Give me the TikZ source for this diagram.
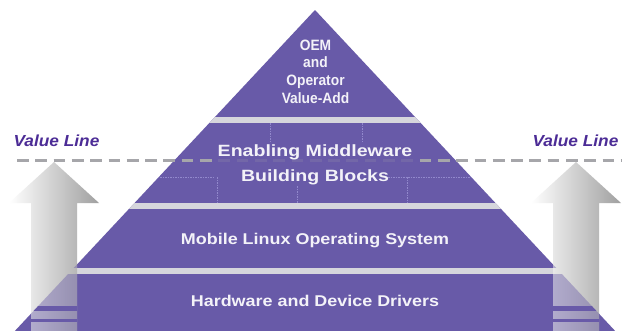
\documentclass[tikz,border=0pt]{standalone}
\usepackage{fontspec}
\setmainfont{Liberation Sans}
\newfontfamily\topfnt[FakeStretch=0.92]{Liberation Sans}
\newfontfamily\widefnt[FakeStretch=1.15]{Liberation Sans}
\newfontfamily\midfnt[FakeStretch=1.2]{Liberation Sans}
\newfontfamily\vlfnt[FakeStretch=1.08]{Liberation Sans}
\definecolor{pyr}{RGB}{104,90,168}
\definecolor{gapc}{RGB}{214,214,220}
\definecolor{vlc}{RGB}{76,44,150}
\definecolor{gridc}{RGB}{146,136,204}
\definecolor{txt}{RGB}{243,242,248}
\definecolor{dashc}{RGB}{166,166,170}
\begin{document}
\begin{tikzpicture}[x=1pt,y=-1pt,
  lbl/.style={text=txt,inner sep=0pt,anchor=base},
  toptext/.style={lbl,font=\topfnt\bfseries\fontsize{15}{17.7}\selectfont},
  midtext/.style={lbl,font=\midfnt\bfseries\fontsize{16.3}{24}\selectfont},
  bandtext/.style={lbl,font=\widefnt\bfseries\fontsize{15.6}{18}\selectfont},
  vltext/.style={inner sep=0pt,anchor=base,text=vlc,font=\vlfnt\bfseries\itshape\fontsize{16}{18}\selectfont},
  gridline/.style={gridc,line width=0.6pt,dash pattern=on 1.5pt off 1pt},
  valueline/.style={dashc,line width=2.8pt,dash pattern=on 11.7pt off 6.6pt},
  arrowshade/.style={left color=white,middle color=gray!12,right color=gray!75}
]
\useasboundingbox (0,0) rectangle (625,330);
\fill[white] (0,0) rectangle (625,330);

% pyramid body
\fill[pyr] (315,10) -- (6.4,340) -- (623.6,340) -- cycle;
\begin{scope}
  \clip (315,10) -- (6.4,340) -- (623.6,340) -- cycle;
  \fill[gapc] (0,117) rectangle (625,123);
  \fill[gapc] (0,203) rectangle (625,209);
  \fill[gapc] (0,268) rectangle (625,274);
  % building-block grid in the middleware band
  \draw[gridline] (270,123) -- (270,143);
  \draw[gridline] (362,123) -- (362,143);
  \draw[gridline] (150,177) -- (214,177);
  \draw[gridline] (388,177) -- (480,177);
  \draw[gridline] (217,177) -- (217,203);
  \draw[gridline] (297,186) -- (297,203);
  \draw[gridline] (407,177) -- (407,203);
\end{scope}

% rising arrows
\shade[arrowshade] (31,340) -- (31,203) -- (9,203) -- (54,162) -- (99,203) -- (77,203) -- (77,340) -- cycle;
\shade[arrowshade] (553,340) -- (553,203) -- (531,203) -- (576,162) -- (621,203) -- (599,203) -- (599,340) -- cycle;

% pyramid seen through the arrow shafts
\begin{scope}
  \clip (31,203) rectangle (77,340);
  \clip (315,10) -- (6.4,340) -- (623.6,340) -- cycle;
  \fill[pyr,opacity=0.42] (0,209) rectangle (625,268);
  \fill[pyr,opacity=0.42] (0,274) rectangle (625,340);
  \fill[pyr] (0,306) rectangle (625,311);
  \fill[pyr] (0,319) rectangle (625,322);
\end{scope}
\begin{scope}
  \clip (553,203) rectangle (599,340);
  \clip (315,10) -- (6.4,340) -- (623.6,340) -- cycle;
  \fill[pyr,opacity=0.42] (0,209) rectangle (625,268);
  \fill[pyr,opacity=0.42] (0,274) rectangle (625,340);
  \fill[pyr] (0,306) rectangle (625,311);
  \fill[pyr] (0,319) rectangle (625,322);
\end{scope}

% value line
\coordinate (vlA) at (17,160.5);
\coordinate (vlB) at (621,160.5);
\draw[valueline,opacity=0.18] (vlA) -- (vlB);
\begin{scope}
  \clip (0,150) rectangle (212,171) (420,150) rectangle (625,171);
  \draw[valueline] (vlA) -- (vlB);
\end{scope}

% texts
\node[toptext] (t1) at (315.5,50) {OEM};
\node[toptext] (t2) at (315.5,67.7) {and};
\node[toptext] (t3) at (315.5,85.4) {Operator};
\node[toptext] (t4) at (315.5,103) {Value-Add};
\node[midtext] (m1) at (315,156.7) {Enabling Middleware};
\node[midtext] (m2) at (315,181.7) {Building Blocks};
\node[bandtext] (os) at (315,244.3) {Mobile Linux Operating System};
\node[bandtext] (hw) at (315,306) {Hardware and Device Drivers};
\node[vltext] (vl1) at (56.5,146.7) {Value Line};
\node[vltext] (vl2) at (575.5,146.7) {Value Line};
\end{tikzpicture}
\end{document}
